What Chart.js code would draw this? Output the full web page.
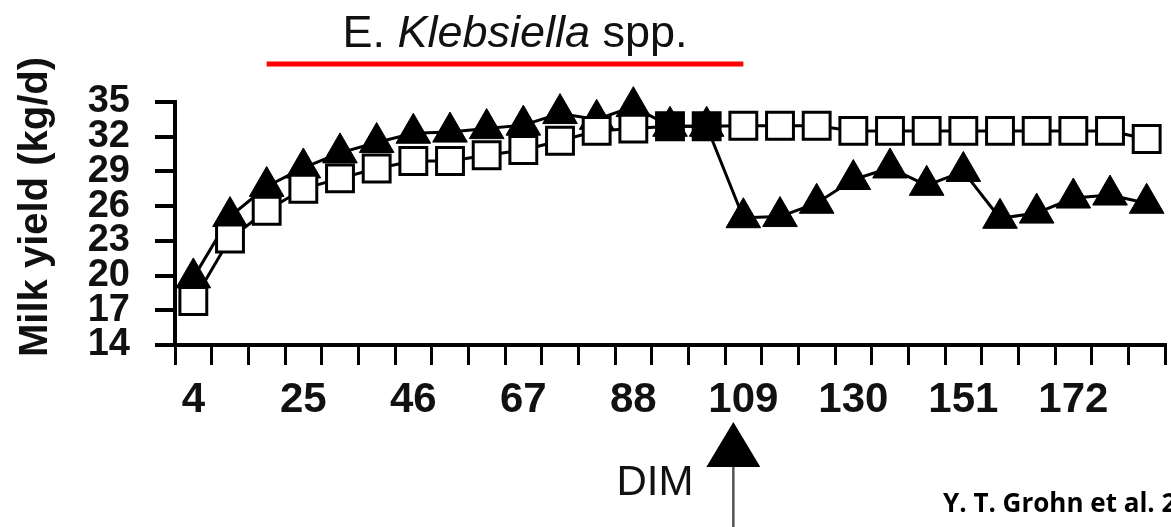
<!DOCTYPE html>
<html>
<head>
<meta charset="utf-8">
<title>Milk yield - E. Klebsiella spp.</title>
<script src="https://cdn.jsdelivr.net/npm/chart.js@4/dist/chart.umd.min.js"></script>
<style>
  html, body { margin: 0; padding: 0; background: #fff; overflow: hidden; }
  #wrap { position: relative; width: 1171px; height: 527px; }
</style>
</head>
<body>
<div id="wrap"><canvas id="milkChart"></canvas></div>
<script>
// days in milk, one category per week
const days = ['4', '11', '18', '25', '32', '39', '46', '53', '60', '67', '74', '81', '88', '95',
  '102', '109', '116', '123', '130', '137', '144', '151', '158', '165', '172', '179', '186'];
const dayLabels = ['4', '25', '46', '67', '88', '109', '130', '151', '172'];

// open squares: cows without mastitis
const controlYield = [17.8, 23.2, 25.6, 27.5, 28.4, 29.25, 29.9, 29.9, 30.4, 30.85, 31.65, 32.5, 32.7, 32.9,
  32.9, 32.95, 32.95, 32.95, 32.5, 32.5, 32.5, 32.5, 32.5, 32.5, 32.5, 32.5, 31.8];
// filled triangles: cows with E. Klebsiella mastitis at 109 DIM
const caseYield = [19.8, 25.1, 27.7, 29.3, 30.6, 31.5, 32.3, 32.4, 32.7, 33.0, 34.0, 33.5, 34.6, 32.9,
  32.9, 25.0, 25.1, 26.25, 28.3, 29.3, 27.8, 29.0, 24.95, 25.4, 26.7, 26.96, 26.25];

const yTicks = [14, 17, 20, 23, 26, 29, 32, 35];
const pathogenSpan = ['18', '109'];   // red bar above the plot
const caseDay = '109';                // arrow under the axis

const FONT = "'Liberation Sans', Arial, sans-serif";

// squares look filled where the triangle sits on them
const squareFill = controlYield.map((v, i) => Math.abs(v - caseYield[i]) < 0.2 ? '#000' : '#fff');

const annotations = {
  id: 'annotations',
  afterDraw(chart) {
    const ctx = chart.ctx;
    const xs = chart.scales.x;
    ctx.save();

    // title with italic genus
    const parts = [['E. ', 'normal'], ['Klebsiella', 'italic'], [' spp.', 'normal']];
    let total = 0;
    parts.forEach(p => { ctx.font = p[1] + ' 45px ' + FONT; total += ctx.measureText(p[0]).width; });
    let tx = 515 - total / 2;
    ctx.fillStyle = '#111';
    ctx.textBaseline = 'alphabetic';
    ctx.textAlign = 'left';
    parts.forEach(p => {
      ctx.font = p[1] + ' 45px ' + FONT;
      ctx.fillText(p[0], tx, 47);
      tx += ctx.measureText(p[0]).width;
    });

    // red span line
    const x1 = xs.getPixelForValue(days.indexOf(pathogenSpan[0]));
    const x2 = xs.getPixelForValue(days.indexOf(pathogenSpan[1]));
    ctx.strokeStyle = '#ff0000';
    ctx.lineWidth = 5;
    ctx.beginPath();
    ctx.moveTo(x1, 64);
    ctx.lineTo(x2, 64);
    ctx.stroke();

    // y axis title
    ctx.save();
    ctx.translate(47, 207);
    ctx.rotate(-Math.PI / 2);
    ctx.font = 'bold 40px ' + FONT;
    ctx.textAlign = 'center';
    ctx.fillStyle = '#111';
    ctx.fillText('Milk yield (kg/d)', 0, 0);
    ctx.restore();

    // x axis title
    ctx.font = '42px ' + FONT;
    ctx.textAlign = 'center';
    ctx.fillText('DIM', 655, 495);

    // arrow at the case day
    const ax = xs.getPixelForValue(days.indexOf(caseDay)) - 10;
    ctx.strokeStyle = '#555';
    ctx.lineWidth = 2.5;
    ctx.beginPath();
    ctx.moveTo(ax, 462);
    ctx.lineTo(ax, 527);
    ctx.stroke();
    ctx.fillStyle = '#000';
    ctx.beginPath();
    ctx.moveTo(ax, 422);
    ctx.lineTo(ax + 27, 467);
    ctx.lineTo(ax - 27, 467);
    ctx.closePath();
    ctx.fill();

    // source
    ctx.font = "bold 26px 'Open Sans', " + FONT;
    ctx.textAlign = 'left';
    ctx.fillText('Y. T. Grohn et al. 2004', 943, 512);

    ctx.restore();
  }
};

new Chart(document.getElementById('milkChart'), {
  type: 'line',
  data: {
    labels: days,
    datasets: [{
      label: 'Control',
      data: controlYield,
      borderColor: '#000',
      borderWidth: 3,
      pointStyle: 'rect',
      pointRadius: 19,
      pointBorderWidth: 3,
      pointBorderColor: '#000',
      pointBackgroundColor: squareFill,
      clip: false
    }, {
      label: 'E. Klebsiella',
      data: caseYield,
      borderColor: '#000',
      borderWidth: 3,
      pointStyle: 'triangle',
      pointRadius: 20,
      pointBorderWidth: 1,
      pointBorderColor: '#000',
      pointBackgroundColor: '#000',
      clip: false
    }]
  },
  options: {
    responsive: true,
    maintainAspectRatio: false,
    animation: false,
    layout: { autoPadding: false, padding: { top: 102, right: 6, left: 0, bottom: 0 } },
    plugins: { legend: { display: false }, tooltip: { enabled: false } },
    scales: {
      x: {
        offset: true,
        grid: { offset: true, drawOnChartArea: false, drawTicks: true, tickLength: 20, color: '#000', lineWidth: 3 },
        border: { display: true, color: '#000', width: 4 },
        ticks: {
          autoSkip: false,
          maxRotation: 0,
          padding: 10,
          color: '#111',
          font: { family: FONT, size: 42, weight: 'bold' },
          callback: (v, i) => dayLabels.includes(days[i]) ? days[i] : ''
        },
        afterFit: s => { s.height = 182; }
      },
      y: {
        min: 14,
        max: 35,
        afterBuildTicks: s => { s.ticks = yTicks.map(v => ({ value: v })); },
        grid: { drawOnChartArea: false, drawTicks: true, tickLength: 20, color: '#000', lineWidth: 4 },
        border: { display: true, color: '#000', width: 4 },
        ticks: {
          autoSkip: false,
          padding: 25,
          color: '#111',
          font: { family: FONT, size: 38, weight: 'bold' }
        },
        afterFit: s => { s.width = 175; }
      }
    }
  },
  plugins: [annotations]
});
</script>
</body>
</html>
